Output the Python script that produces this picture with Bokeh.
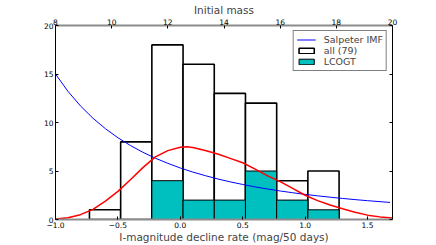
from bokeh.plotting import figure
from bokeh.models import (Range1d, LinearAxis, FixedTicker, CustomJSTickFormatter,
                          Legend, LegendItem, ColumnDataSource)
from bokeh.embed import file_html
from bokeh.resources import INLINE

# ---- data ----
bin_edges = [-0.728, -0.478, -0.228, 0.022, 0.272, 0.522, 0.772, 1.022, 1.272]
all_counts = [1, 8, 18, 16, 13, 12, 4, 5]
lcogt_counts = [0, 0, 4, 2, 2, 5, 2, 1]

imf_x = [-1.0, -0.9, -0.8, -0.7, -0.6, -0.5, -0.4, -0.3, -0.2, -0.1, 0.0,
         0.1, 0.2, 0.3, 0.4, 0.5, 0.6, 0.7, 0.8, 0.9, 1.0, 1.1, 1.2, 1.3,
         1.4, 1.5, 1.6, 1.68]
imf_y = [15.0, 13.21, 11.71, 10.44, 9.36, 8.43, 7.63, 6.93, 6.32, 5.79, 5.31,
         4.89, 4.52, 4.18, 3.88, 3.61, 3.36, 3.14, 2.94, 2.76, 2.59, 2.44, 2.30,
         2.17, 2.05, 1.94, 1.84, 1.76]

fit_x = [-1.0, -0.9, -0.8, -0.7, -0.6, -0.5, -0.4, -0.3, -0.2, -0.1, 0.0, 0.05,
         0.1, 0.2, 0.3, 0.4, 0.5, 0.6, 0.7, 0.8, 0.9, 1.0, 1.1, 1.2, 1.3, 1.4,
         1.5, 1.6, 1.7]
fit_y = [0.05, 0.18, 0.5, 1.05, 1.9, 2.9, 4.1, 5.35, 6.45, 7.1, 7.45, 7.5,
         7.42, 7.12, 6.75, 6.3, 5.85, 5.2, 4.5, 3.9, 3.2, 2.5, 1.95, 1.5, 1.1,
         0.75, 0.45, 0.27, 0.15]

x_ticks = [-1.0, -0.5, 0.0, 0.5, 1.0, 1.5]
y_ticks = [0, 5, 10, 15, 20]
mass_ticks = [8, 10, 12, 14, 16, 18, 20]

x_label = "I-magnitude decline rate (mag/50 days)"
top_label = "Initial mass"

FONT = "DejaVu Sans"

p = figure(width=436, height=245, output_backend="svg", toolbar_location=None,
           x_range=Range1d(-1.0, 1.7), y_range=Range1d(0, 20),
           min_border_left=55, min_border_right=44, min_border_top=23,
           min_border_bottom=26, x_axis_location=None, y_axis_location=None)
p.grid.visible = False
p.outline_line_color = None
p.background_fill_color = "white"
p.extra_x_ranges = {"mass": Range1d(8, 20)}

left = bin_edges[:-1]
right = bin_edges[1:]
src_all = ColumnDataSource(dict(left=left, right=right, top=all_counts,
                                bottom=[0] * len(all_counts)))
lc_l = [l for l, c in zip(left, lcogt_counts) if c > 0]
lc_r = [r for r, c in zip(right, lcogt_counts) if c > 0]
lc_c = [c for c in lcogt_counts if c > 0]
src_lc = ColumnDataSource(dict(left=lc_l, right=lc_r, top=lc_c, bottom=[0] * len(lc_c)))

r_all = p.quad(left="left", right="right", top="top", bottom="bottom", source=src_all,
               fill_color="white", line_color="black", line_width=1.6)
r_lc = p.quad(left="left", right="right", top="top", bottom="bottom", source=src_lc,
              fill_color="#00bfbf", line_color="black", line_width=1.0)
r_imf = p.line(imf_x, imf_y, line_color="#0000ff", line_width=1.0)
r_fit = p.line(fit_x, fit_y, line_color="#ff0000", line_width=1.5)

fmt = CustomJSTickFormatter(code="return tick.toFixed(1).replace('-', '\u2212');")


def style(ax, labels=True):
    ax.major_tick_in = 3
    ax.major_tick_out = 0
    ax.minor_tick_line_color = None
    ax.major_label_text_font = FONT
    ax.major_label_text_font_size = "7.5px"
    ax.major_label_text_color = "black" if labels else None
    ax.major_label_standoff = 2
    ax.axis_label_text_font = FONT
    ax.axis_label_text_font_size = "10.5px"
    ax.axis_label_text_font_style = "normal"
    ax.axis_label_standoff = 0
    ax.major_tick_line_color = "black"


bottom = LinearAxis(ticker=FixedTicker(ticks=x_ticks), formatter=fmt, axis_label=x_label)
style(bottom)
bottom.axis_line_color = "#8c8c8c"
bottom.axis_line_width = 2
p.add_layout(bottom, "below")

leftax = LinearAxis(ticker=FixedTicker(ticks=y_ticks))
style(leftax)
leftax.axis_line_color = "black"
p.add_layout(leftax, "left")

rightax = LinearAxis(ticker=FixedTicker(ticks=y_ticks))
style(rightax, labels=False)
rightax.axis_line_color = "black"
p.add_layout(rightax, "right")

topax = LinearAxis(x_range_name="mass", ticker=FixedTicker(ticks=mass_ticks),
                   axis_label=top_label)
style(topax)
topax.major_label_standoff = 1
topax.axis_line_color = "#8c8c8c"
topax.axis_line_width = 2
p.add_layout(topax, "above")

legend = Legend(items=[LegendItem(label="Salpeter IMF", renderers=[r_imf]),
                       LegendItem(label="all (79)", renderers=[r_all]),
                       LegendItem(label="LCOGT", renderers=[r_lc])],
                location="top_right")
legend.margin = 5
legend.padding = 3
legend.spacing = 0
legend.label_height = 11
legend.glyph_height = 7
legend.glyph_width = 19
legend.label_standoff = 8
legend.label_text_font = FONT
legend.label_text_font_size = "9.5px"
legend.border_line_color = "black"
legend.border_line_width = 1
legend.background_fill_alpha = 1
p.add_layout(legend)

open("out.html", "w").write(file_html(p, INLINE))
